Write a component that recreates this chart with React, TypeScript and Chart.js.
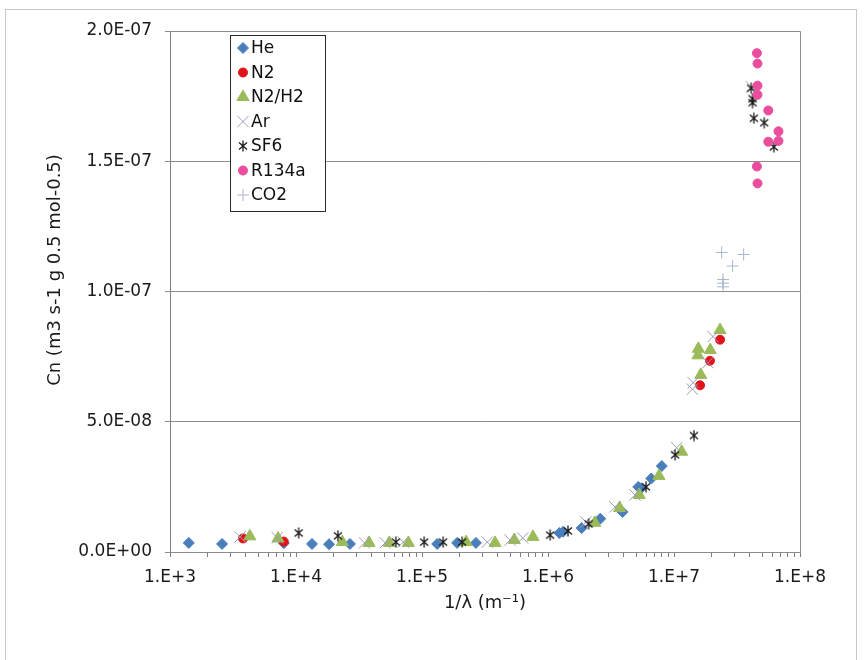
import React, { useEffect, useRef } from 'react';
import { Chart, registerables } from 'chart.js';
import { drawPoint } from 'chart.js/helpers';

Chart.register(...registerables);

const seriesNames = ['He', 'N2', 'N2/H2', 'Ar', 'SF6', 'R134a', 'CO2'];
const yAxisTitle = 'Cn (m3 s-1 g 0.5 mol-0.5)';
const xAxisTitle = '1/λ (m⁻¹)';

const heX = [1.41e3, 2.59e3, 8.0e3, 1.34e4, 1.83e4, 2.68e4, 1.32e5, 1.9e5, 2.68e5, 1.23e6, 1.32e6, 1.85e6, 2.6e6, 3.9e6, 5.2e6, 5.5e6, 6.6e6, 8.0e6];
const heY = [3.5e-9, 3.1e-9, 3.4e-9, 3.1e-9, 3.0e-9, 3.1e-9, 3.1e-9, 3.5e-9, 3.5e-9, 7.3e-9, 7.8e-9, 9.2e-9, 12.8e-9, 15.4e-9, 25.0e-9, 24.5e-9, 28.2e-9, 33.0e-9];

const n2X = [3.8e3, 8.0e3, 1.61e7, 1.93e7, 2.32e7];
const n2Y = [5.2e-9, 4.0e-9, 64.0e-9, 73.4e-9, 81.5e-9];

const n2h2X = [4.3e3, 7.2e3, 2.33e4, 3.8e4, 5.5e4, 7.8e4, 2.24e5, 3.8e5, 5.4e5, 7.6e5, 2.35e6, 3.7e6, 5.3e6, 7.6e6, 1.15e7, 1.55e7, 1.56e7, 1.63e7, 1.94e7, 2.32e7];
const n2h2Y = [6.0e-9, 5.2e-9, 3.8e-9, 3.5e-9, 3.5e-9, 3.5e-9, 3.8e-9, 3.5e-9, 4.6e-9, 5.8e-9, 11.2e-9, 16.9e-9, 21.9e-9, 29.2e-9, 38.5e-9, 75.5e-9, 78.0e-9, 68.0e-9, 77.5e-9, 85.2e-9];

const arX = [3.6e3, 7.1e3, 3.5e4, 5.1e4, 7.1e4, 3.3e5, 5.0e5, 6.3e5, 2.0e6, 3.4e6, 4.9e6, 1.05e7, 1.40e7, 1.42e7, 1.86e7, 2.04e7, 4.12e7];
const arY = [5.8e-9, 5.5e-9, 3.5e-9, 3.5e-9, 3.8e-9, 3.8e-9, 4.6e-9, 5.4e-9, 11.5e-9, 17.3e-9, 21.9e-9, 40.0e-9, 62.5e-9, 65.0e-9, 72.7e-9, 82.7e-9, 178.5e-9];

const sf6X = [1.05e4, 2.15e4, 6.2e4, 1.04e5, 1.47e5, 2.08e5, 1.04e6, 1.44e6, 2.1e6, 6.0e6, 1.02e7, 1.44e7, 4.1e7, 4.2e7, 4.2e7, 4.3e7, 5.2e7, 6.2e7];
const sf6Y = [7.3e-9, 6.2e-9, 3.8e-9, 3.8e-9, 3.8e-9, 3.8e-9, 6.5e-9, 8.1e-9, 10.8e-9, 25.0e-9, 37.3e-9, 44.7e-9, 178.0e-9, 174.0e-9, 172.5e-9, 166.5e-9, 164.8e-9, 155.5e-9];

const r134aX = [4.55e7, 4.6e7, 4.6e7, 4.6e7, 5.6e7, 6.75e7, 5.6e7, 6.75e7, 4.55e7, 4.6e7];
const r134aY = [191.5e-9, 187.5e-9, 179.0e-9, 175.5e-9, 169.5e-9, 161.5e-9, 157.5e-9, 157.8e-9, 148.0e-9, 141.5e-9];

const co2X = [2.39e7, 3.57e7, 2.92e7, 2.45e7, 2.45e7, 2.45e7];
const co2Y = [115.0e-9, 114.2e-9, 109.8e-9, 104.6e-9, 103.2e-9, 101.8e-9];

const xMin = 1e3;
const xMax = 1e8;
const yMin = 0;
const yMax = 2e-7;
const yStep = 5e-8;

const FONT = '"DejaVu Sans", Arial, sans-serif';

function makeSf6Marker(): HTMLCanvasElement {
  const c = document.createElement('canvas');
  c.width = 12; c.height = 12;
  const g = c.getContext('2d')!;
  g.strokeStyle = '#1a1a1a';
  g.lineWidth = 1.3;
  g.beginPath();
  g.moveTo(6, 0.5); g.lineTo(6, 11.5);
  g.moveTo(2, 2.5); g.lineTo(10, 9.5);
  g.moveTo(10, 2.5); g.lineTo(2, 9.5);
  g.stroke();
  return c;
}

function pts(xs: number[], ys: number[]) {
  return xs.map((x, i) => ({ x, y: ys[i] }));
}

function fmtY(v: number): string {
  if (Math.abs(v) < 1e-20) return '0.0E+00';
  const [m, e] = v.toExponential(1).split('e');
  const n = parseInt(e, 10);
  const s = n < 0 ? '-' : '+';
  const a = Math.abs(n);
  return m + 'E' + s + (a < 10 ? '0' + a : String(a));
}

const legendPlugin = {
  id: 'frameAndLegend',
  afterDraw(chart: any) {
    const { ctx, chartArea: a } = chart;
    ctx.save();
    // y axis title
    ctx.translate(55, 270);
    ctx.rotate(-Math.PI / 2);
    ctx.fillStyle = '#1a1a1a';
    ctx.font = '18px ' + FONT;
    ctx.textAlign = 'center';
    ctx.textBaseline = 'middle';
    ctx.fillText(yAxisTitle, 0, 0);
    ctx.restore();
  },
  afterDatasetsDraw(chart: any) {
    const { ctx, chartArea: a } = chart;
    ctx.save();
    ctx.strokeStyle = '#8c8c8c';
    ctx.lineWidth = 1;
    ctx.beginPath();
    ctx.moveTo(a.left, Math.round(a.top) + 0.5);
    ctx.lineTo(Math.round(a.right) + 0.5, Math.round(a.top) + 0.5);
    ctx.lineTo(Math.round(a.right) + 0.5, a.bottom);
    ctx.stroke();

    const bx = Math.round(a.left) + 60;
    const by = Math.round(a.top) + 4;
    const bw = 95;
    const bh = 176;
    ctx.fillStyle = '#ffffff';
    ctx.fillRect(bx, by, bw, bh);
    ctx.strokeStyle = '#2a2a2a';
    ctx.lineWidth = 1;
    ctx.strokeRect(bx + 0.5, by + 0.5, bw, bh);
    chart.data.datasets.forEach((ds: any, i: number) => {
      const y = by + 13 + i * 24.5;
      ctx.fillStyle = ds.backgroundColor;
      ctx.strokeStyle = ds.borderColor;
      ctx.lineWidth = ds.borderWidth;
      drawPoint(ctx, { pointStyle: ds.pointStyle, radius: ds.pointRadius, borderWidth: ds.borderWidth, rotation: 0 } as any, bx + 13, y);
      ctx.fillStyle = '#111111';
      ctx.font = '17px ' + FONT;
      ctx.textBaseline = 'middle';
      ctx.textAlign = 'left';
      ctx.fillText(ds.label, bx + 21, y + 1);
    });
    ctx.restore();
  },
};

export default function App() {
  const ref = useRef<HTMLCanvasElement | null>(null);

  useEffect(() => {
    document.body.style.margin = '0';
    const canvas = ref.current!;
    const sf6Marker = makeSf6Marker();
    const styles = [
      { data: pts(heX, heY), pointStyle: 'rectRot', pointRadius: 5.5, backgroundColor: '#4a7ebb', borderColor: '#4a7ebb', borderWidth: 1 },
      { data: pts(n2X, n2Y), pointStyle: 'circle', pointRadius: 4.5, backgroundColor: '#e2121b', borderColor: '#e2121b', borderWidth: 1 },
      { data: pts(n2h2X, n2h2Y), pointStyle: 'triangle', pointRadius: 7, backgroundColor: '#9bbb59', borderColor: '#9bbb59', borderWidth: 1 },
      { data: pts(arX, arY), pointStyle: 'crossRot', pointRadius: 8, backgroundColor: '#9d9bb5', borderColor: '#9d9bb5', borderWidth: 1 },
      { data: pts(sf6X, sf6Y), pointStyle: sf6Marker, pointRadius: 5, backgroundColor: '#1a1a1a', borderColor: '#1a1a1a', borderWidth: 1 },
      { data: pts(r134aX, r134aY), pointStyle: 'circle', pointRadius: 4.5, backgroundColor: '#ea4d9d', borderColor: '#ea4d9d', borderWidth: 1 },
      { data: pts(co2X, co2Y), pointStyle: 'cross', pointRadius: 6, backgroundColor: '#a9b7cf', borderColor: '#a9b7cf', borderWidth: 1 },
    ];
    const datasets = styles.map((s, i) => ({
      label: seriesNames[i],
      ...s,
      pointHoverRadius: s.pointRadius,
      showLine: false,
      order: styles.length - i,
    }));

    const chart = new Chart(canvas, {
      type: 'scatter',
      data: { datasets: datasets as any },
      options: {
        animation: false,
        responsive: false,
        devicePixelRatio: 1,
        layout: { padding: { left: 0, top: 31, right: 64, bottom: 0 } },
        plugins: { legend: { display: false }, tooltip: { enabled: false } },
        scales: {
          x: {
            type: 'logarithmic',
            min: xMin,
            max: xMax,
            afterFit: (s: any) => { s.height = 108; },
            border: { color: '#8c8c8c', width: 1 },
            grid: {
              drawOnChartArea: false,
              drawTicks: true,
              tickLength: 5,
              color: '#7f7f7f',
              tickColor: (ctx: any) => {
                const v = ctx.tick ? ctx.tick.value : 0;
                const r = v / Math.pow(10, Math.floor(Math.log10(v) + 1e-9));
                return Math.abs(r - 1.5) < 1e-6 ? 'rgba(0,0,0,0)' : '#7f7f7f';
              },
            },
            ticks: {
              autoSkip: false,
              maxRotation: 0,
              padding: 10,
              color: '#1a1a1a',
              font: { family: FONT, size: 17 },
              callback: (value: any) => {
                const e = Math.log10(Number(value));
                return Math.abs(e - Math.round(e)) < 1e-9 ? '1.E+' + Math.round(e) : '';
              },
            },
            title: {
              display: true,
              text: xAxisTitle,
              color: '#1a1a1a',
              font: { family: FONT, size: 18 },
              padding: { top: 0, bottom: 46 },
            },
          },
          y: {
            type: 'linear',
            min: yMin,
            max: yMax,
            afterFit: (s: any) => { s.width = 170; },
            border: { color: '#7f7f7f', width: 1 },
            grid: { color: '#8c8c8c', tickLength: 5, drawTicks: true },
            ticks: {
              stepSize: yStep,
              padding: 13,
              color: '#1a1a1a',
              font: { family: FONT, size: 17 },
              callback: (value: any) => fmtY(Number(value)),
            },
            title: { display: false, text: yAxisTitle },
          },
        },
      },
      plugins: [legendPlugin],
    });
    return () => chart.destroy();
  }, []);

  return (
    <div style={{ position: 'relative', width: 864, height: 660, overflow: 'hidden', background: '#fff' }}>
      <div style={{ position: 'absolute', left: 5, top: 9, width: 852, height: 700, border: '1px solid #c8c8c8', boxSizing: 'border-box' }} />
      <canvas ref={ref} width={864} height={660} style={{ position: 'absolute', left: 0, top: 0, width: 864, height: 660, display: 'block' }} />
    </div>
  );
}
